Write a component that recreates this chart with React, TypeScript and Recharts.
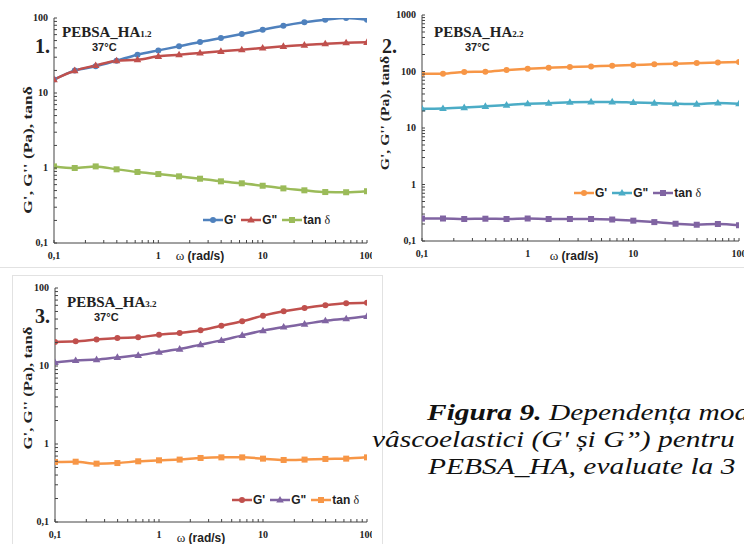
import React from "react";
import { LineChart, Line, XAxis, YAxis } from "recharts";

// angular frequency, rad/s (5 points per decade)
const omega = [0.1, 0.158, 0.251, 0.398, 0.631, 1, 1.58, 2.51, 3.98, 6.31, 10, 15.8, 25.1, 39.8, 63.1, 100];

// 1. PEBSA_HA1.2
const g1Storage = [15.1, 19.9, 22.7, 27, 32.4, 37, 41.9, 47.9, 54, 61.2, 69.9, 79, 87.5, 95, 100, 95];
const g1Loss = [15.1, 19.9, 23.3, 27, 27.8, 30.8, 32.4, 34.2, 36, 37.8, 39.8, 41.9, 43.6, 45.5, 46.9, 47.4];
const g1Tan = [1.05, 1.0, 1.05, 0.96, 0.885, 0.83, 0.774, 0.72, 0.664, 0.625, 0.58, 0.535, 0.504, 0.478, 0.475, 0.49];

// 2. PEBSA_HA2.2
const g2Storage = [91.6, 91.6, 98, 99.3, 106, 112, 117, 120, 123, 127, 130, 134, 137, 141, 145, 147];
const g2Loss = [21.9, 22.2, 23, 24.2, 25.5, 26.9, 27.4, 28.7, 29, 29, 28.3, 27.6, 26.9, 26.5, 27.7, 26.9];
const g2Tan = [0.25, 0.25, 0.245, 0.248, 0.245, 0.25, 0.245, 0.245, 0.245, 0.24, 0.229, 0.216, 0.202, 0.194, 0.2, 0.19];

// 3. PEBSA_HA3.2
const g3Storage = [20.3, 20.7, 21.8, 22.9, 23.3, 25.2, 26.5, 28.7, 32.9, 37.4, 44.2, 50.2, 55.5, 60, 63.6, 64.9];
const g3Loss = [11.1, 11.8, 12.1, 12.9, 13.7, 15.1, 16.5, 18.8, 21.3, 24.7, 28.4, 31.6, 34.5, 38.1, 40.4, 43.4];
const g3Tan = [0.588, 0.593, 0.56, 0.57, 0.6, 0.618, 0.631, 0.662, 0.674, 0.674, 0.649, 0.624, 0.631, 0.643, 0.649, 0.674];

const logTicks100 = [
  0.1, 0.2, 0.3, 0.4, 0.5, 0.6, 0.7, 0.8, 0.9,
  1, 2, 3, 4, 5, 6, 7, 8, 9,
  10, 20, 30, 40, 50, 60, 70, 80, 90, 100,
];
const logTicks1000 = [...logTicks100, 200, 300, 400, 500, 600, 700, 800, 900, 1000];

const SERIF = '"Liberation Serif", "Times New Roman", serif';
const SANS = '"Liberation Sans", Arial, sans-serif';

const isMajor = (v: number) => Math.abs(Math.log10(v) - Math.round(Math.log10(v))) < 1e-6;
const fmt = (v: number) => String(v).replace(".", ",");

function XTick(props: any) {
  const { x, y, payload } = props;
  const v = payload.value;
  return (
    <g>
      <line x1={x} x2={x} y1={y} y2={y - 3} stroke="#444" />
      {isMajor(v) && (
        <text x={x} y={y + 16} textAnchor="middle" fontFamily={SERIF} fontWeight="bold" fontSize={10} fill="#222">
          {fmt(v)}
        </text>
      )}
    </g>
  );
}

function YTick(props: any) {
  const { x, y, payload } = props;
  const v = payload.value;
  return (
    <g>
      <line x1={x} x2={x + 3} y1={y} y2={y} stroke="#444" />
      {isMajor(v) && (
        <text x={x - 6} y={y + 3} textAnchor="end" fontFamily={SERIF} fontWeight="bold" fontSize={10} fill="#222">
          {fmt(v)}
        </text>
      )}
    </g>
  );
}

function markerDot(shape: string, color: string) {
  return (p: any) => {
    const { cx, cy, index } = p;
    const k = `m-${shape}-${index}`;
    if (cx == null || cy == null) return <g key={k} />;
    if (shape === "circle") return <circle key={k} cx={cx} cy={cy} r={3} fill={color} />;
    if (shape === "triangle")
      return <path key={k} d={`M${cx},${cy - 4}L${cx + 3.8},${cy + 2.6}L${cx - 3.8},${cy + 2.6}Z`} fill={color} />;
    return <rect key={k} x={cx - 3} y={cy - 3} width={6} height={6} fill={color} />;
  };
}

function Marker({ shape, color }: { shape: string; color: string }) {
  if (shape === "circle") return <circle cx={10} cy={5} r={3} fill={color} />;
  if (shape === "triangle") return <path d="M10,1L13.8,7.6L6.2,7.6Z" fill={color} />;
  return <rect x={7} y={2} width={6} height={6} fill={color} />;
}

const shapes = ["circle", "triangle", "square"];

function PanelLegend({ left, top, colors }: { left: number; top: number; colors: string[] }) {
  const labels = [
    <>G'</>,
    <>G"</>,
    <>
      tan <span style={{ fontFamily: SERIF, fontWeight: "normal" }}>δ</span>
    </>,
  ];
  return (
    <div
      style={{
        position: "absolute",
        left,
        top: top - 8,
        height: 16,
        display: "flex",
        alignItems: "center",
        gap: 5,
        fontFamily: SANS,
        fontWeight: "bold",
        fontSize: 12,
        color: "#222",
        whiteSpace: "nowrap",
      }}
    >
      {labels.map((lab, i) => (
        <span key={i} style={{ display: "inline-flex", alignItems: "center" }}>
          <svg width={20} height={10}>
            <line x1={0} x2={20} y1={5} y2={5} stroke={colors[i]} strokeWidth={2.5} />
            <Marker shape={shapes[i]} color={colors[i]} />
          </svg>
          <span style={{ marginLeft: 1 }}>{lab}</span>
        </span>
      ))}
    </div>
  );
}

function Title({ left, top, num, sub, numLeft, tempLeft }: any) {
  return (
    <>
      <div style={{ position: "absolute", left, top: top - 9, fontFamily: SERIF, fontWeight: "bold", fontSize: 15, color: "#222", whiteSpace: "nowrap" }}>
        PEBSA_HA<span style={{ fontSize: 9 }}>{sub}</span>
      </div>
      <div style={{ position: "absolute", left: numLeft, top: top + 2, fontFamily: SERIF, fontWeight: "bold", fontSize: 20, color: "#222" }}>
        {num}
      </div>
      <div style={{ position: "absolute", left: tempLeft, top: top + 8, fontFamily: SANS, fontWeight: "bold", fontSize: 11, color: "#222" }}>
        37°C
      </div>
    </>
  );
}

function YLabel({ x, y, stretch }: { x: number; y: number; stretch: number }) {
  return (
    <div
      style={{
        position: "absolute",
        left: x,
        top: y,
        transform: `translate(-50%, -50%) rotate(-90deg) scaleX(${stretch})`,
        fontFamily: SERIF,
        fontWeight: "bold",
        fontSize: 12,
        color: "#222",
        whiteSpace: "nowrap",
      }}
    >
      G', G'' (Pa), tanδ
    </div>
  );
}

function XLabel({ x, y }: { x: number; y: number }) {
  return (
    <div
      style={{
        position: "absolute",
        left: x,
        top: y,
        transform: "translate(-50%, -50%)",
        fontFamily: SANS,
        fontWeight: "bold",
        fontSize: 12,
        color: "#222",
        whiteSpace: "nowrap",
      }}
    >
      <span style={{ fontFamily: SERIF, fontWeight: "normal", fontSize: 13 }}>ω</span> (rad/s)
    </div>
  );
}

function Panel(props: any) {
  const { left, top, width, height, margin, yAxisWidth, xAxisHeight, yDomain, yTicks, storage, loss, tan, colors } = props;
  const rows = omega.map((w, i) => ({ w, storage: storage[i], loss: loss[i], tan: tan[i] }));
  const series = [
    { key: "storage", color: colors[0], shape: "circle" },
    { key: "loss", color: colors[1], shape: "triangle" },
    { key: "tan", color: colors[2], shape: "square" },
  ];
  return (
    <div style={{ position: "absolute", left, top }}>
      <LineChart width={width} height={height} data={rows} margin={margin}>
        <XAxis
          dataKey="w"
          type="number"
          scale="log"
          domain={[0.1, 100]}
          ticks={logTicks100}
          interval={0}
          tick={<XTick />}
          tickSize={0}
          tickMargin={0}
          tickLine={false}
          axisLine={{ stroke: "#444" }}
          height={xAxisHeight}
          allowDataOverflow
        />
        <YAxis
          type="number"
          scale="log"
          domain={yDomain}
          ticks={yTicks}
          interval={0}
          tick={<YTick />}
          tickSize={0}
          tickMargin={0}
          tickLine={false}
          axisLine={{ stroke: "#444" }}
          width={yAxisWidth}
          allowDataOverflow
        />
        {series.map((s) => (
          <Line
            key={s.key}
            dataKey={s.key}
            type="monotone"
            stroke={s.color}
            strokeWidth={2.5}
            dot={markerDot(s.shape, s.color)}
            activeDot={false}
            isAnimationActive={false}
          />
        ))}
      </LineChart>
    </div>
  );
}

const captionStyle: React.CSSProperties = {
  position: "absolute",
  fontFamily: SERIF,
  fontStyle: "italic",
  fontSize: 23,
  lineHeight: "26px",
  color: "#111",
  whiteSpace: "nowrap",
  transform: "scaleX(1.28)",
  transformOrigin: "left center",
};

export default function App() {
  return (
    <div style={{ position: "absolute", left: 0, top: 0, width: 744, height: 544, background: "#fff", overflow: "hidden" }}>
      <Panel
        left={0}
        top={0}
        width={372}
        height={267}
        margin={{ top: 18, right: 5, left: 0, bottom: 0 }}
        yAxisWidth={54}
        xAxisHeight={24}
        yDomain={[0.1, 100]}
        yTicks={logTicks100}
        storage={g1Storage}
        loss={g1Loss}
        tan={g1Tan}
        colors={["#4F81BD", "#C0504D", "#9BBB59"]}
      />
      <Panel
        left={372}
        top={0}
        width={372}
        height={267}
        margin={{ top: 15, right: 5, left: 0, bottom: 0 }}
        yAxisWidth={50}
        xAxisHeight={26}
        yDomain={[0.1, 1000]}
        yTicks={logTicks1000}
        storage={g2Storage}
        loss={g2Loss}
        tan={g2Tan}
        colors={["#F79646", "#4BACC6", "#8064A2"]}
      />
      <div style={{ position: "absolute", left: 0, top: 267, width: 744, height: 1, background: "#e2e2e2" }} />
      <div style={{ position: "absolute", left: 12, top: 275, width: 369, height: 300, border: "1px solid #e2e2e2" }} />
      <Panel
        left={0}
        top={270}
        width={372}
        height={274}
        margin={{ top: 18, right: 5, left: 0, bottom: 0 }}
        yAxisWidth={55}
        xAxisHeight={22}
        yDomain={[0.1, 100]}
        yTicks={logTicks100}
        storage={g3Storage}
        loss={g3Loss}
        tan={g3Tan}
        colors={["#C0504D", "#8064A2", "#F79646"]}
      />

      <Title left={62} top={33} num="1." sub="1.2" numLeft={35} tempLeft={92} />
      <Title left={434} top={33} num="2." sub="2.2" numLeft={382} tempLeft={465} />
      <Title left={67} top={303} num="3." sub="3.2" numLeft={35} tempLeft={94} />

      <PanelLegend left={203} top={220} colors={["#4F81BD", "#C0504D", "#9BBB59"]} />
      <PanelLegend left={574} top={193} colors={["#F79646", "#4BACC6", "#8064A2"]} />
      <PanelLegend left={232} top={500} colors={["#C0504D", "#8064A2", "#F79646"]} />

      <YLabel x={28} y={150} stretch={1.45} />
      <YLabel x={385} y={113} stretch={1.3} />
      <YLabel x={28} y={388} stretch={1.4} />

      <XLabel x={200} y={256} />
      <XLabel x={574} y={256} />
      <XLabel x={201} y={538} />

      <div style={{ ...captionStyle, left: 427, top: 400 }}>
        <b>Figura 9.</b> Dependența mod
      </div>
      <div style={{ ...captionStyle, left: 372, top: 427 }}>vâscoelastici (G' și G”) pentru</div>
      <div style={{ ...captionStyle, left: 428, top: 454 }}>PEBSA_HA, evaluate la 3</div>
    </div>
  );
}
